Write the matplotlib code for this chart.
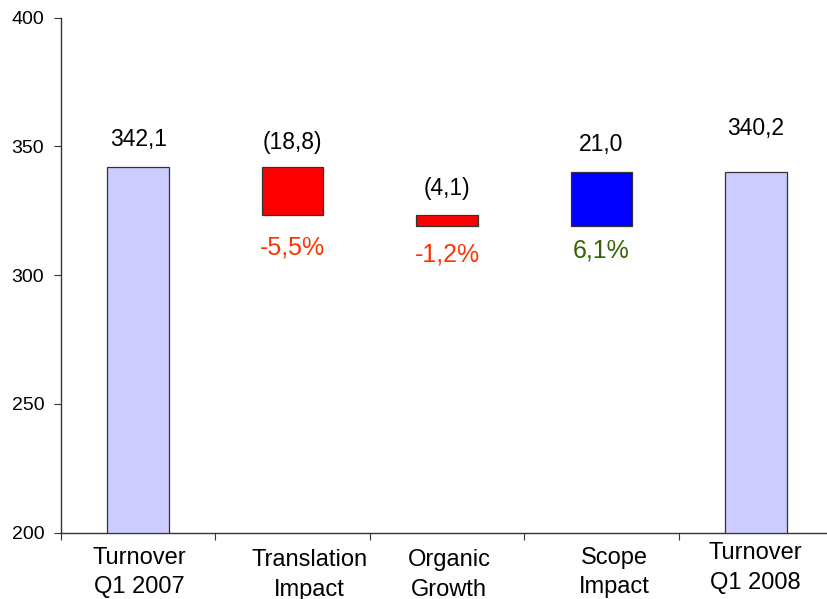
import matplotlib
matplotlib.use("Agg")
import matplotlib.pyplot as plt
import numpy as np

plt.rcParams['font.family'] = ['Liberation Sans', 'DejaVu Sans']

categories = ["Turnover\nQ1 2007", "Translation\nImpact", "Organic\nGrowth", "Scope\nImpact", "Turnover\nQ1 2008"]
start_value = 342.1
changes = [-18.8, -4.1, 21.0]
end_value = 340.2
value_labels = ["342,1", "(18,8)", "(4,1)", "21,0", "340,2"]
pct_labels = ["-5,5%", "-1,2%", "6,1%"]

y_min, y_max = 200, 400
yticks = [200, 250, 300, 350, 400]

fig = plt.figure(figsize=(8.27, 5.99), dpi=100)
ax = fig.add_axes([61/827, 1 - 532.7/599, 772/827, (532.7 - 17.5)/599])

x = np.arange(len(categories)) + 0.5
width = 0.40

bottoms = [y_min]
heights = [start_value - y_min]
level = start_value
for c in changes:
    new = level + c
    bottoms.append(min(level, new))
    heights.append(abs(c))
    level = new
bottoms.append(y_min)
heights.append(end_value - y_min)

colors = ["#CCCCFF", "#FF0000", "#FF0000", "#0000FF", "#CCCCFF"]
ax.bar(x, heights, width=width, bottom=bottoms, color=colors,
       edgecolor="#333333", linewidth=0.9, zorder=3)

tops = [b + h for b, h in zip(bottoms, heights)]
# baseline offsets above bar tops (points)
label_offsets = [15, 13, 14.5, 15, 26]
for xi, t, lab, off in zip(x, tops, value_labels, label_offsets):
    ax.annotate(lab, (xi, t), xytext=(0, off), textcoords="offset points",
                ha="center", va="baseline", fontsize=16.5, color="black")

pct_colors = ["#FF3300", "#FF3300", "#336600"]
pct_offsets = [-15, -12, -9]
for xi, b, lab, col, off in zip(x[1:4], bottoms[1:4], pct_labels, pct_colors, pct_offsets):
    ax.annotate(lab, (xi, b), xytext=(0, off), textcoords="offset points",
                ha="center", va="top", fontsize=18, color=col)

ax.set_ylim(y_min, y_max)
ax.set_xlim(0, len(categories))
ax.set_yticks(yticks)
ax.set_yticklabels([str(v) for v in yticks], fontsize=14)
ax.set_xticks(np.arange(len(categories) + 1))
ax.set_xticklabels([])
ax.tick_params(axis='x', which='major', length=5, direction='out', color="#333333")
ax.tick_params(axis='y', length=5, direction='out', color="#333333", pad=7)

# category labels with small individual shifts (points)
cat_dx = [1, 12, 1.5, 9, 0]
cat_dy = [0, 1.5, 1.5, 0, -3.5]
for xi, lab, dx, dy in zip(x, categories, cat_dx, cat_dy):
    ax.annotate(lab, (xi, 0), xycoords=('data', 'axes fraction'),
                xytext=(dx, -10.5 - dy), textcoords="offset points",
                ha="center", va="top", multialignment="center",
                fontsize=17, linespacing=1.42, color="black",
                annotation_clip=False)

for s in ["top", "right"]:
    ax.spines[s].set_visible(False)
for s in ["left", "bottom"]:
    ax.spines[s].set_color("#333333")
    ax.spines[s].set_linewidth(1.0)

fig.savefig("out.png", dpi=100)
